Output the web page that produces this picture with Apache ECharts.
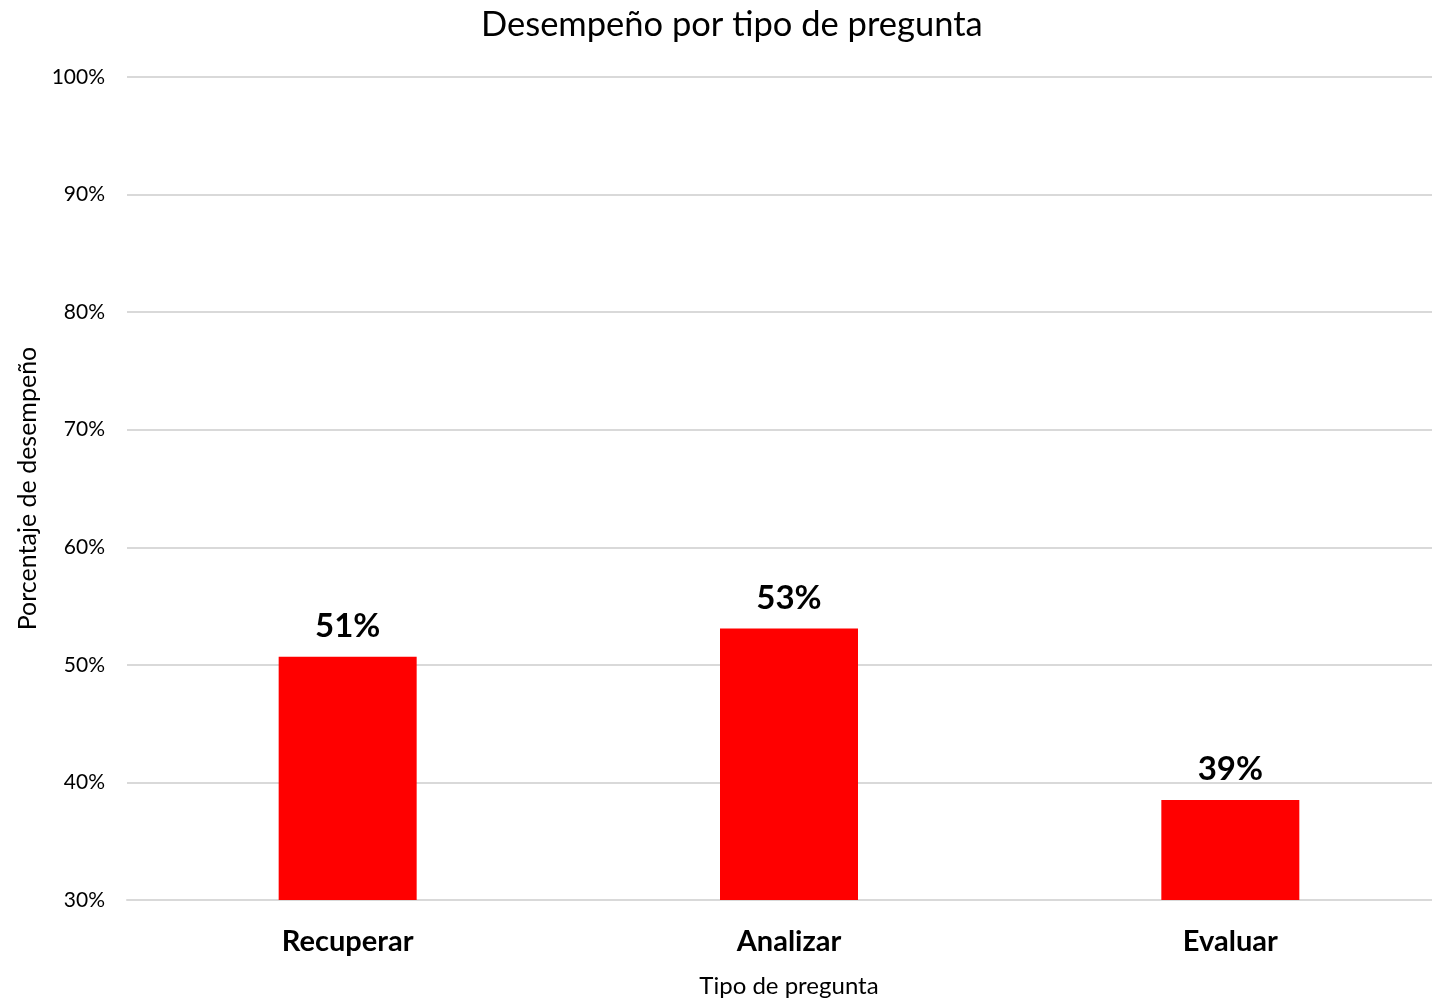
<!DOCTYPE html>
<html>
<head>
<meta charset="utf-8">
<script src="https://cdn.jsdelivr.net/npm/echarts@6/dist/echarts.min.js"></script>
<style>
  html, body { margin: 0; padding: 0; background: #fff; }
  #chart { width: 1432px; height: 999px; }
</style>
</head>
<body>
<div id="chart"></div>
<script>
const categories = ['Recuperar', 'Analizar', 'Evaluar']
const performance = [0.507, 0.531, 0.385]
const yTicks = [0.3, 0.4, 0.5, 0.6, 0.7, 0.8, 0.9, 1.0]

const font = 'Lato, "Open Sans", sans-serif'
const chart = echarts.init(document.getElementById('chart'))

chart.setOption({
  animation: false,
  textStyle: { fontFamily: font },
  title: {
    text: 'Desempeño por tipo de pregunta',
    left: 476,
    top: 2,
    textStyle: { fontSize: 34.5, fontWeight: 'normal', color: '#000', fontFamily: font }
  },
  // plot area runs a little past the right edge, like the original
  grid: { left: 127, right: -19, top: 77, bottom: 99, outerBoundsMode: 'none' },
  xAxis: {
    type: 'category',
    data: categories,
    name: 'Tipo de pregunta',
    nameLocation: 'middle',
    nameGap: 74,
    nameTextStyle: { fontSize: 24, color: '#000' },
    axisLine: { lineStyle: { color: '#d9d9d9', width: 2 } },
    axisTick: { show: false },
    axisLabel: { fontSize: 29, fontWeight: 'bold', color: '#000', margin: 27 }
  },
  yAxis: {
    type: 'value',
    min: yTicks[0],
    max: yTicks[yTicks.length - 1],
    interval: 0.1,
    name: 'Porcentaje de desempeño',
    nameLocation: 'middle',
    nameGap: 86,
    nameTextStyle: { fontSize: 25, color: '#000' },
    axisLine: { show: false },
    axisTick: { show: false },
    splitLine: { lineStyle: { color: '#d9d9d9', width: 2 } },
    axisLabel: {
      fontSize: 21,
      color: '#000',
      margin: 22,
      formatter: v => Math.round(v * 100) + '%'
    }
  },
  series: [{
    type: 'bar',
    data: performance,
    barWidth: 138,
    itemStyle: { color: '#ff0000' },
    label: {
      show: true,
      position: 'top',
      distance: 14,
      fontSize: 33,
      fontWeight: 'bold',
      color: '#000',
      formatter: p => Math.round(p.value * 100) + '%'
    }
  }]
})
</script>
</body>
</html>
